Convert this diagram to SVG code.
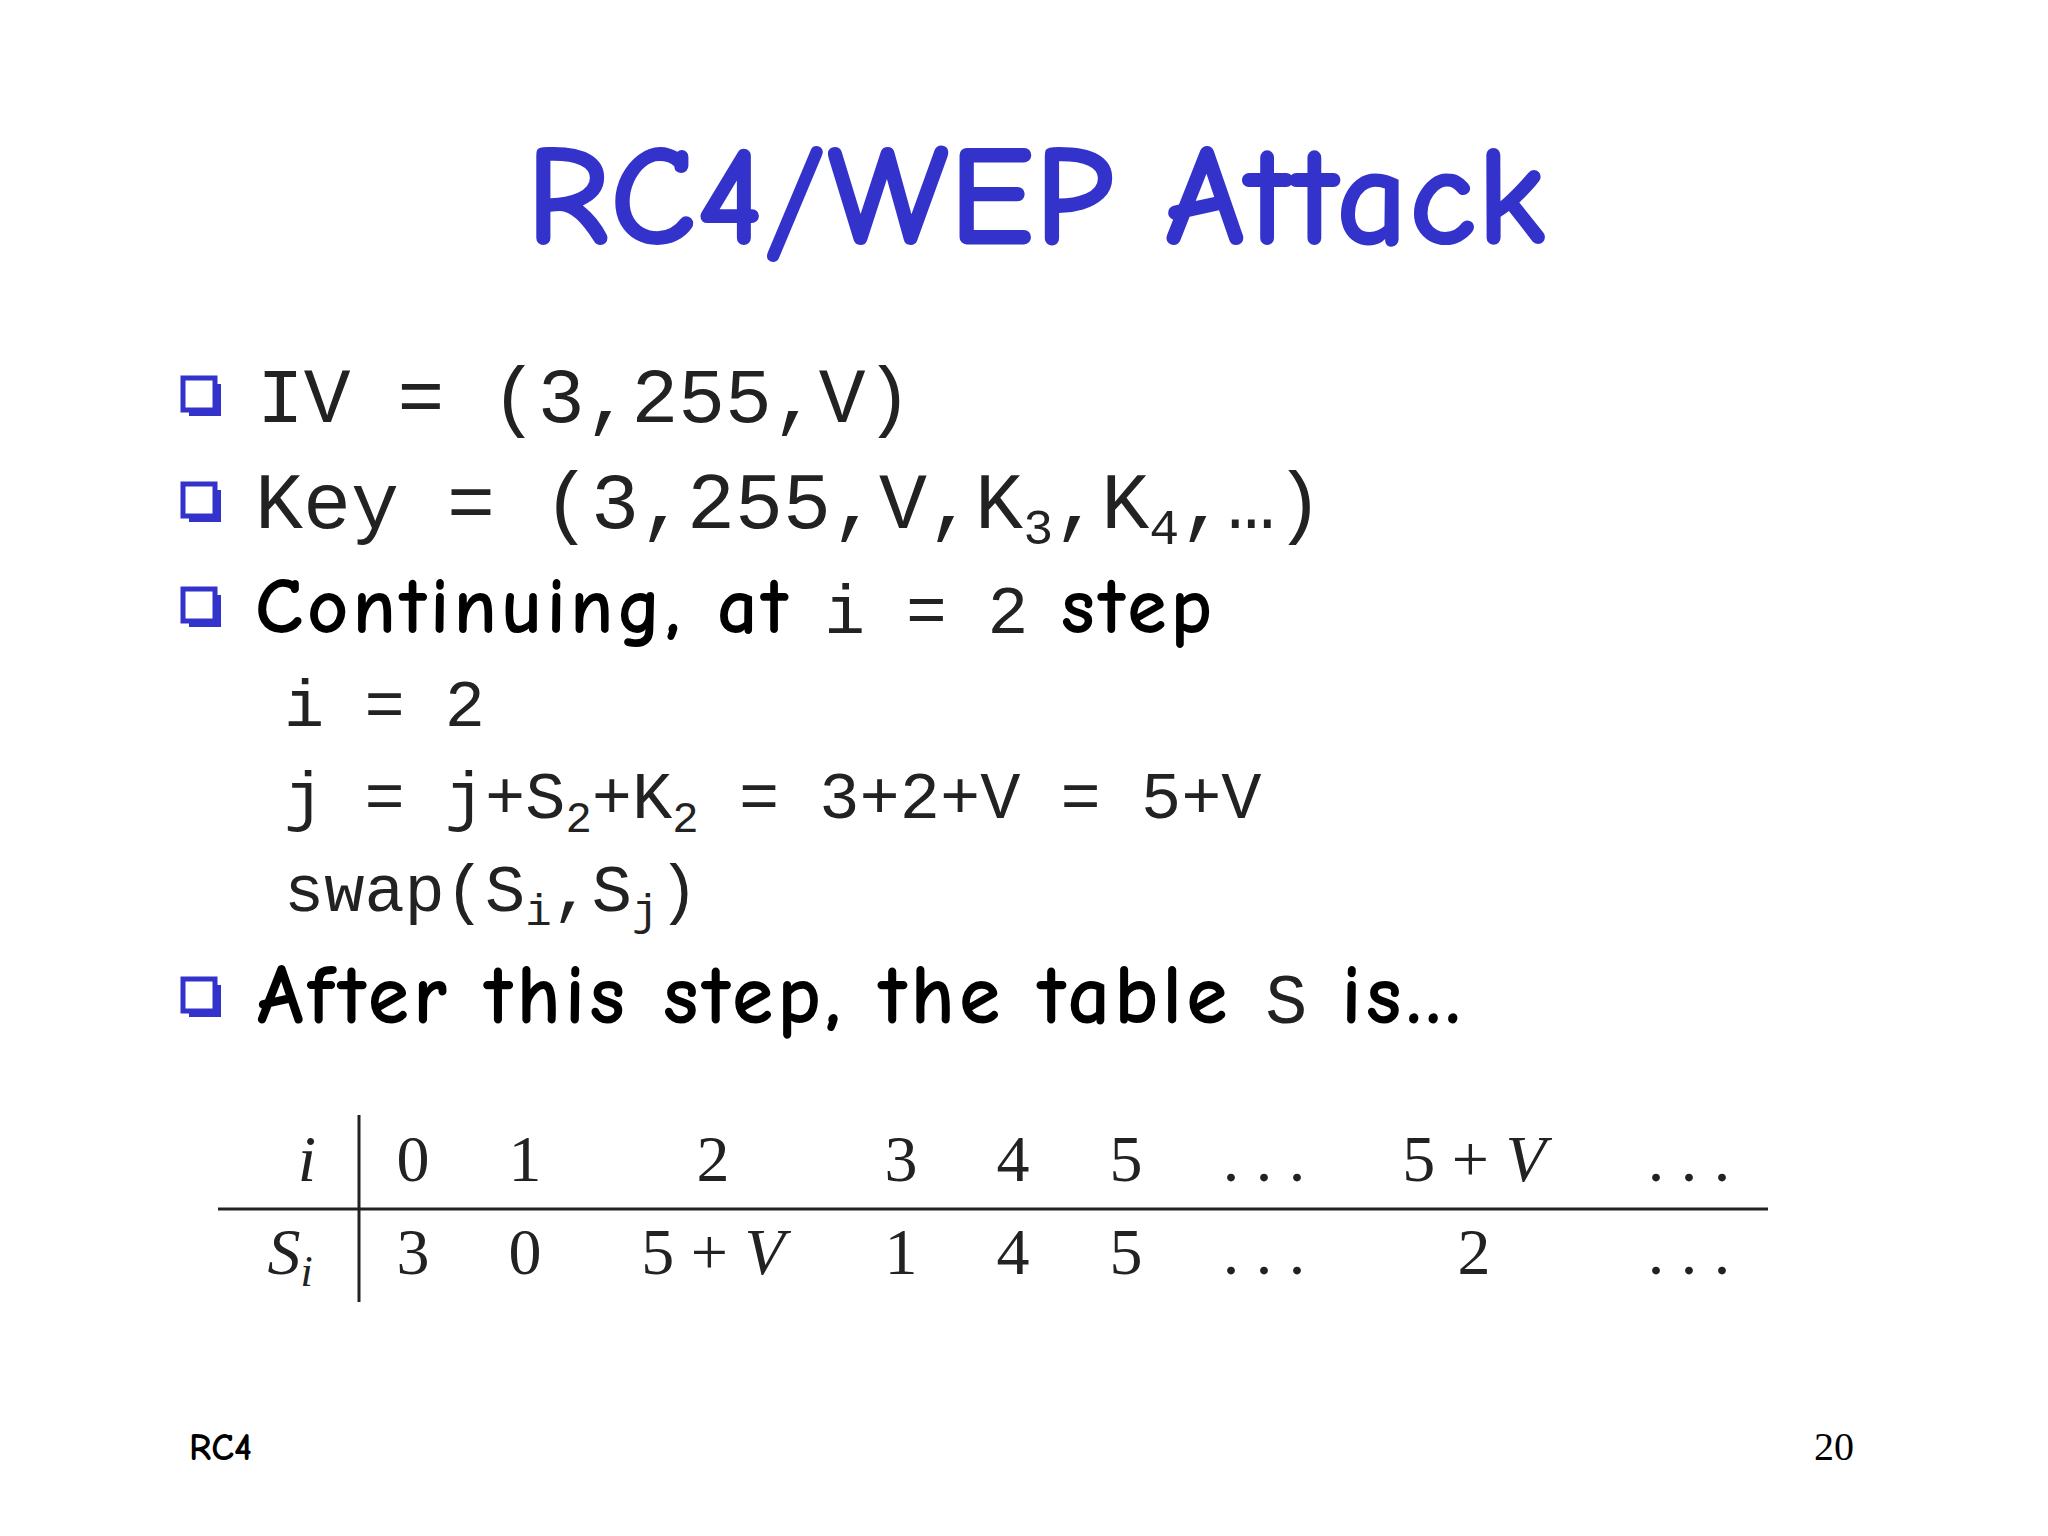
<svg xmlns="http://www.w3.org/2000/svg" width="2048" height="1536" viewBox="0 0 2048 1536">
<style>
.t{font-family:"Comic Neue","Liberation Sans",sans-serif;fill:#000;font-weight:bold}
.ls{letter-spacing:4px}
.m{font-family:"Liberation Mono",monospace;fill:#222;font-weight:normal;letter-spacing:0}
.s{font-family:"Liberation Serif",serif;fill:#222;font-size:66px}
.bx{fill:#fff;stroke:#3333cc;stroke-width:5}
.sh{fill:#3333cc}
</style>
<defs>
<g id="bul"><rect class="sh" x="6" y="6" width="32" height="32"/><rect class="bx" x="0" y="0" width="32" height="32"/></g>
</defs>
<rect width="2048" height="1536" fill="#fff"/>
<g id="title"><text x="1036" y="244" text-anchor="middle" class="t" font-size="144" style="fill:#3333cc">RC4/WEP Attack</text></g>
<g id="b1"><use href="#bul" x="183" y="378"/><text x="257" y="422" class="m" font-size="78">IV = (3,255,V)</text></g>
<g id="b2"><use href="#bul" x="183" y="484"/><text x="255" y="528" class="m" font-size="80">Key = (3,255,V,K<tspan font-size="50" dy="16">3</tspan><tspan dy="-16">,K</tspan><tspan font-size="50" dy="16">4</tspan><tspan dy="-16">,…)</tspan></text></g>
<g id="b3"><use href="#bul" x="183" y="589"/><text x="255" y="633" class="t ls" font-size="80">Continuing, at <tspan class="m" font-size="68">i = 2</tspan> step</text></g>
<g id="sub"><text class="m" font-size="67" x="284" y="726">i = 2</text>
<text class="m" font-size="67" x="284" y="818">j = j+S<tspan font-size="44" dy="14">2</tspan><tspan dy="-14">+K</tspan><tspan font-size="44" dy="14">2</tspan><tspan dy="-14"> = 3+2+V = 5+V</tspan></text>
<text class="m" font-size="67" x="284" y="911">swap(S<tspan font-size="44" dy="14">i</tspan><tspan dy="-14">,S</tspan><tspan font-size="44" dy="14">j</tspan><tspan dy="-14">)</tspan></text></g>
<g id="b4"><use href="#bul" x="183" y="979"/><text x="257" y="1023" class="t ls" font-size="84">After this step, the table <tspan class="m" font-size="70">S</tspan> is…</text></g>
<g id="table">
<line x1="218" y1="1209" x2="1768" y2="1209" stroke="#222" stroke-width="3"/>
<line x1="359" y1="1115" x2="359" y2="1302" stroke="#222" stroke-width="3"/>
<g class="s" text-anchor="middle">
<text x="307" y="1181" font-style="italic">i</text>
<text x="413" y="1181">0</text><text x="525" y="1181">1</text><text x="713" y="1181">2</text><text x="901" y="1181">3</text><text x="1013" y="1181">4</text><text x="1126" y="1181">5</text><text x="1264" y="1181">. . .</text><text x="1474" y="1181">5 + <tspan font-style="italic">V</tspan></text><text x="1689" y="1181">. . .</text>
<text x="290" y="1274" font-style="italic">S<tspan font-size="44" dy="12">i</tspan></text>
<text x="413" y="1274">3</text><text x="525" y="1274">0</text><text x="713" y="1274">5 + <tspan font-style="italic">V</tspan></text><text x="901" y="1274">1</text><text x="1013" y="1274">4</text><text x="1126" y="1274">5</text><text x="1264" y="1274">. . .</text><text x="1474" y="1274">2</text><text x="1689" y="1274">. . .</text>
</g></g>
<g id="footer"><text x="189" y="1460" class="t" font-size="38">RC4</text><text x="1854" y="1460" text-anchor="end" font-family="Liberation Serif,serif" font-size="40">20</text></g>
</svg>
